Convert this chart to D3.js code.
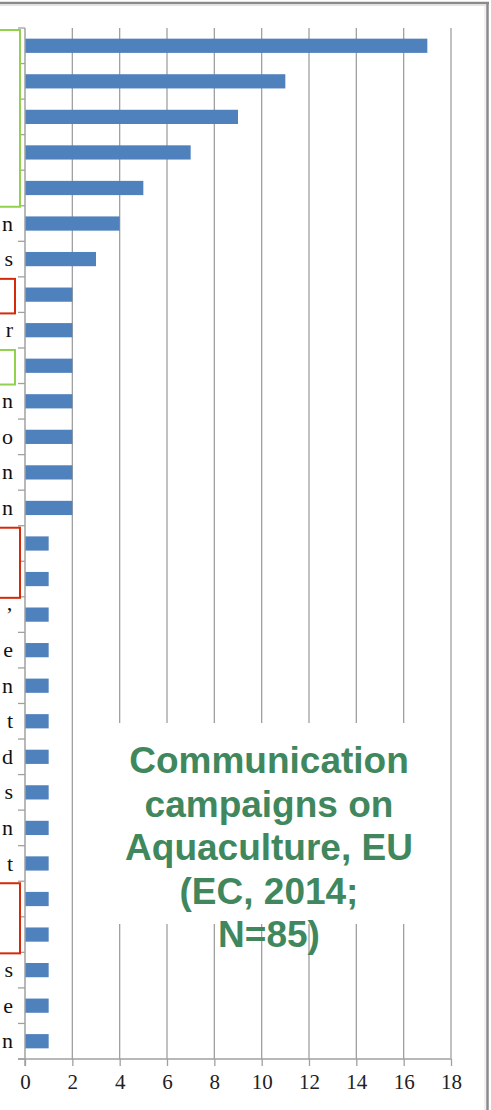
<!DOCTYPE html>
<html>
<head>
<meta charset="utf-8">
<script src="https://cdn.jsdelivr.net/npm/d3@7/dist/d3.min.js"></script>
<style>
  html, body { margin: 0; padding: 0; background: #fff; }
  svg { display: block; }
</style>
</head>
<body>
<div id="chart"></div>
<script>
// Category label endings (row order, top to bottom)
const categories = ["", "", "", "", "", "n", "s", "", "r", "", "n", "o", "n", "n",
  "", "", "\u2019", "e", "n", "t", "d", "s", "n", "t", "", "", "s", "e", "n"];
// Number of campaigns per category
const values = [17, 11, 9, 7, 5, 4, 3, 2, 2, 2, 2, 2, 2, 2,
  1, 1, 1, 1, 1, 1, 1, 1, 1, 1, 1, 1, 1, 1, 1];
// X axis ticks
const xTicks = [0, 2, 4, 6, 8, 10, 12, 14, 16, 18];
// Highlight groups over the category labels: [first row, last row, colour]
const groups = [
  [0, 4, "#92D050"],
  [7, 7, "#D42A0A"],
  [9, 9, "#92D050"],
  [14, 15, "#D42A0A"],
  [24, 25, "#D42A0A"]
];
const titleLines = ["Communication", "campaigns on", "Aquaculture, EU", "(EC, 2014;", "N=85)"];

const W = 491, H = 1110;
const plot = { left: 25, right: 451, top: 28, bottom: 1059 };

const svg = d3.select("#chart").append("svg").attr("width", W).attr("height", H);

const x = d3.scaleLinear().domain([0, 18]).range([plot.left, plot.right]);
const y = d3.scaleBand().domain(d3.range(values.length))
  .range([plot.top, plot.bottom]).paddingInner(0.6).paddingOuter(0.3);

const grey = "#a0a0a0";

// vertical gridlines
svg.append("g").selectAll("line").data(xTicks.filter(d => d > 0)).join("line")
  .attr("x1", d => x(d)).attr("x2", d => x(d))
  .attr("y1", plot.top).attr("y2", plot.bottom)
  .attr("stroke", grey).attr("stroke-width", 1.3);

// bars
svg.append("g").selectAll("rect").data(values).join("rect")
  .attr("x", x(0)).attr("y", (d, i) => y(i))
  .attr("width", d => x(d) - x(0)).attr("height", y.bandwidth())
  .attr("fill", "#4F81BD");

// x axis
const xAxis = svg.append("g").attr("transform", `translate(0,${plot.bottom})`)
  .call(d3.axisBottom(x).tickValues(xTicks).tickSize(7).tickPadding(8).tickSizeOuter(0));
xAxis.select(".domain").remove();
xAxis.append("line").attr("x1", plot.left - 7).attr("x2", plot.right)
  .attr("stroke", grey).attr("stroke-width", 1.3);
xAxis.selectAll(".tick line").attr("stroke", grey).attr("stroke-width", 1.3);
xAxis.selectAll(".tick text").attr("fill", "#222")
  .style("font-family", "'Liberation Serif', 'DejaVu Serif', serif").style("font-size", "21px");

// y axis: labels at band centres, ticks at band boundaries
const yAxis = svg.append("g").attr("transform", `translate(${plot.left},0)`)
  .call(d3.axisLeft(y).tickFormat(i => categories[i]).tickSize(0).tickPadding(12));
yAxis.select(".domain").remove();
yAxis.selectAll(".tick text").attr("fill", "#111")
  .style("font-family", "'Liberation Serif', 'DejaVu Serif', serif").style("font-size", "22px");
const bounds = d3.range(values.length + 1).map(k => plot.top + k * y.step());
yAxis.selectAll("line.bound").data(bounds).join("line").attr("class", "bound")
  .attr("x1", -7).attr("x2", 0).attr("y1", d => d).attr("y2", d => d)
  .attr("stroke", grey).attr("stroke-width", 1.3);
yAxis.append("line").attr("x1", 0).attr("x2", 0)
  .attr("y1", plot.top).attr("y2", plot.bottom + 7)
  .attr("stroke", grey).attr("stroke-width", 1.5);

// highlight boxes over label groups
svg.append("g").selectAll("rect").data(groups).join("rect")
  .attr("x", -5)
  .attr("y", g => plot.top + g[0] * y.step() + 2)
  .attr("width", g => (g[1] > g[0] ? 25 : 20))
  .attr("height", g => (g[1] - g[0] + 1) * y.step() - 1)
  .attr("fill", "#fff").attr("stroke", g => g[2]).attr("stroke-width", 2);

// title panel
const tx = 269, ty0 = 773, lh = 43.5;
svg.append("rect").attr("x", 82).attr("y", 723).attr("width", 360).attr("height", 201)
  .attr("fill", "#fff");
svg.append("g").selectAll("text").data(titleLines).join("text")
  .attr("x", tx).attr("y", (d, i) => ty0 + i * lh)
  .attr("text-anchor", "middle").attr("fill", "#40875D")
  .style("font-family", "'Liberation Sans', Arial, sans-serif")
  .style("font-weight", "bold").style("font-size", "37px")
  .text(d => d);

// outer frame
svg.append("line").attr("x1", 0).attr("x2", 489).attr("y1", 3).attr("y2", 3)
  .attr("stroke", "#8a8a8a").attr("stroke-width", 2.5);
svg.append("line").attr("x1", 0).attr("x2", 486).attr("y1", 5.5).attr("y2", 5.5)
  .attr("stroke", "#e2e2e2").attr("stroke-width", 1);
svg.append("line").attr("x1", 487.5).attr("x2", 487.5).attr("y1", 2).attr("y2", H)
  .attr("stroke", "#8a8a8a").attr("stroke-width", 2.5);
svg.append("line").attr("x1", 485).attr("x2", 485).attr("y1", 5).attr("y2", H)
  .attr("stroke", "#e2e2e2").attr("stroke-width", 1);
</script>
</body>
</html>
